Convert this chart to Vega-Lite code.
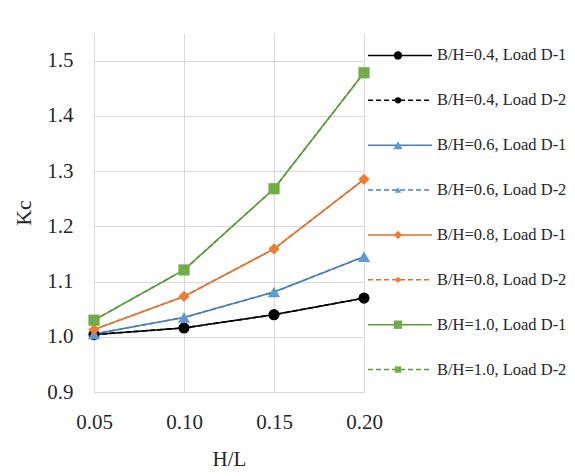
{
  "$schema": "https://vega.github.io/schema/vega-lite/v6.json",
  "padding": {"left": 12, "top": 33, "right": 0, "bottom": 0},
  "background": "white",
  "bounds": "flush",
  "config": {"font": "Liberation Serif", "view": {"stroke": null}},
  "datasets": {
    "series": [
      {"s": "B/H=0.4, Load D-1"}, {"s": "B/H=0.4, Load D-2"},
      {"s": "B/H=0.6, Load D-1"}, {"s": "B/H=0.6, Load D-2"},
      {"s": "B/H=0.8, Load D-1"}, {"s": "B/H=0.8, Load D-2"},
      {"s": "B/H=1.0, Load D-1"}, {"s": "B/H=1.0, Load D-2"}
    ],
    "points": [
      {"s": "B/H=0.4, Load D-2", "x": 0.05, "y": 1.004}, {"s": "B/H=0.4, Load D-2", "x": 0.10, "y": 1.016}, {"s": "B/H=0.4, Load D-2", "x": 0.15, "y": 1.040}, {"s": "B/H=0.4, Load D-2", "x": 0.20, "y": 1.070},
      {"s": "B/H=0.6, Load D-2", "x": 0.05, "y": 1.005}, {"s": "B/H=0.6, Load D-2", "x": 0.10, "y": 1.035}, {"s": "B/H=0.6, Load D-2", "x": 0.15, "y": 1.081}, {"s": "B/H=0.6, Load D-2", "x": 0.20, "y": 1.145},
      {"s": "B/H=0.8, Load D-2", "x": 0.05, "y": 1.013}, {"s": "B/H=0.8, Load D-2", "x": 0.10, "y": 1.073}, {"s": "B/H=0.8, Load D-2", "x": 0.15, "y": 1.159}, {"s": "B/H=0.8, Load D-2", "x": 0.20, "y": 1.285},
      {"s": "B/H=1.0, Load D-2", "x": 0.05, "y": 1.030}, {"s": "B/H=1.0, Load D-2", "x": 0.10, "y": 1.121}, {"s": "B/H=1.0, Load D-2", "x": 0.15, "y": 1.268}, {"s": "B/H=1.0, Load D-2", "x": 0.20, "y": 1.478},
      {"s": "B/H=0.4, Load D-1", "x": 0.05, "y": 1.004}, {"s": "B/H=0.4, Load D-1", "x": 0.10, "y": 1.016}, {"s": "B/H=0.4, Load D-1", "x": 0.15, "y": 1.040}, {"s": "B/H=0.4, Load D-1", "x": 0.20, "y": 1.070},
      {"s": "B/H=0.6, Load D-1", "x": 0.05, "y": 1.005}, {"s": "B/H=0.6, Load D-1", "x": 0.10, "y": 1.035}, {"s": "B/H=0.6, Load D-1", "x": 0.15, "y": 1.081}, {"s": "B/H=0.6, Load D-1", "x": 0.20, "y": 1.145},
      {"s": "B/H=0.8, Load D-1", "x": 0.05, "y": 1.013}, {"s": "B/H=0.8, Load D-1", "x": 0.10, "y": 1.073}, {"s": "B/H=0.8, Load D-1", "x": 0.15, "y": 1.159}, {"s": "B/H=0.8, Load D-1", "x": 0.20, "y": 1.285},
      {"s": "B/H=1.0, Load D-1", "x": 0.05, "y": 1.030}, {"s": "B/H=1.0, Load D-1", "x": 0.10, "y": 1.121}, {"s": "B/H=1.0, Load D-1", "x": 0.15, "y": 1.268}, {"s": "B/H=1.0, Load D-1", "x": 0.20, "y": 1.478}
    ]
  },
  "spacing": 4,
  "hconcat": [
    {
      "width": 270,
      "height": 359,
      "data": {"name": "points"},
      "encoding": {
        "x": {"field": "x", "type": "quantitative", "scale": {"domain": [0.05, 0.2], "nice": false, "zero": false},
          "axis": {"values": [0.05, 0.1, 0.15, 0.2], "format": ".2f", "title": "H/L", "labelFont": "Liberation Serif", "labelFontSize": 21, "labelColor": "#262626", "labelPadding": 19, "ticks": false, "domainColor": "#d9d9d9", "gridColor": "#d9d9d9", "titleFont": "Liberation Serif", "titleFontSize": 21, "titleFontWeight": "normal", "titleColor": "#262626", "titlePadding": 16, "labelFlush": false}},
        "y": {"field": "y", "type": "quantitative", "scale": {"domain": [0.9, 1.55], "nice": false, "zero": false},
          "axis": {"values": [0.9, 1.0, 1.1, 1.2, 1.3, 1.4, 1.5], "format": ".1f", "title": "Kc", "labelFont": "Liberation Serif", "labelFontSize": 21, "labelColor": "#262626", "labelPadding": 21, "ticks": false, "domainColor": "#d9d9d9", "gridColor": "#d9d9d9", "titleFont": "Liberation Serif", "titleFontSize": 22, "titleFontWeight": "normal", "titleColor": "#262626", "titlePadding": 11}},
        "color": {"field": "s", "type": "nominal", "legend": null,
          "scale": {"domain": ["B/H=0.4, Load D-1", "B/H=0.4, Load D-2", "B/H=0.6, Load D-1", "B/H=0.6, Load D-2", "B/H=0.8, Load D-1", "B/H=0.8, Load D-2", "B/H=1.0, Load D-1", "B/H=1.0, Load D-2"],
            "range": ["#000000", "#000000", "#4a7ebb", "#4a7ebb", "#e0712c", "#e0712c", "#5e9a3a", "#5e9a3a"]}}
      },
      "layer": [
        {
          "mark": {"type": "line", "strokeWidth": 1.6},
          "encoding": {
            "strokeDash": {"field": "s", "type": "nominal", "legend": null,
              "scale": {"domain": ["B/H=0.4, Load D-1", "B/H=0.4, Load D-2", "B/H=0.6, Load D-1", "B/H=0.6, Load D-2", "B/H=0.8, Load D-1", "B/H=0.8, Load D-2", "B/H=1.0, Load D-1", "B/H=1.0, Load D-2"],
                "range": [[1, 0], [5, 3], [1, 0], [5, 3], [1, 0], [5, 3], [1, 0], [5, 3]]}}
          }
        },
        {
          "mark": {"type": "point", "filled": true, "opacity": 1, "strokeWidth": 0.8},
          "encoding": {
            "shape": {"field": "s", "type": "nominal", "legend": null,
              "scale": {"domain": ["B/H=0.4, Load D-1", "B/H=0.4, Load D-2", "B/H=0.6, Load D-1", "B/H=0.6, Load D-2", "B/H=0.8, Load D-1", "B/H=0.8, Load D-2", "B/H=1.0, Load D-1", "B/H=1.0, Load D-2"],
                "range": ["circle", "circle", "triangle-up", "triangle-up", "diamond", "diamond", "square", "square"]}},
            "fill": {"field": "s", "type": "nominal", "legend": null,
              "scale": {"domain": ["B/H=0.4, Load D-1", "B/H=0.4, Load D-2", "B/H=0.6, Load D-1", "B/H=0.6, Load D-2", "B/H=0.8, Load D-1", "B/H=0.8, Load D-2", "B/H=1.0, Load D-1", "B/H=1.0, Load D-2"],
                "range": ["#000000", "#000000", "#5b9bd5", "#5b9bd5", "#ed7d31", "#ed7d31", "#70ad47", "#70ad47"]}},
            "size": {"condition": [
                {"test": "indexof(datum.s, 'D-2') >= 0", "value": 60},
                {"test": "indexof(datum.s, '0.6') >= 0", "value": 150},
                {"test": "indexof(datum.s, '0.8') >= 0", "value": 125}
              ], "value": 125}
          }
        }
      ]
    },
    {
      "width": 207,
      "height": 359,
      "data": {"name": "series"},
      "encoding": {
        "y": {"field": "s", "type": "ordinal", "axis": null, "sort": null, "scale": {"type": "point", "padding": 0.5}},
        "color": {"field": "s", "type": "nominal", "legend": null,
          "scale": {"domain": ["B/H=0.4, Load D-1", "B/H=0.4, Load D-2", "B/H=0.6, Load D-1", "B/H=0.6, Load D-2", "B/H=0.8, Load D-1", "B/H=0.8, Load D-2", "B/H=1.0, Load D-1", "B/H=1.0, Load D-2"],
            "range": ["#000000", "#000000", "#4a7ebb", "#4a7ebb", "#e0712c", "#e0712c", "#5e9a3a", "#5e9a3a"]}}
      },
      "layer": [
        {
          "mark": {"type": "rule", "strokeWidth": 1.6},
          "encoding": {
            "x": {"datum": 0, "type": "quantitative", "scale": {"domain": [0, 207], "nice": false}, "axis": null},
            "x2": {"datum": 64},
            "strokeDash": {"field": "s", "type": "nominal", "legend": null,
              "scale": {"domain": ["B/H=0.4, Load D-1", "B/H=0.4, Load D-2", "B/H=0.6, Load D-1", "B/H=0.6, Load D-2", "B/H=0.8, Load D-1", "B/H=0.8, Load D-2", "B/H=1.0, Load D-1", "B/H=1.0, Load D-2"],
                "range": [[1, 0], [5, 3], [1, 0], [5, 3], [1, 0], [5, 3], [1, 0], [5, 3]]}}
          }
        },
        {
          "mark": {"type": "point", "filled": true, "opacity": 1, "strokeWidth": 0.8},
          "encoding": {
            "x": {"datum": 30, "type": "quantitative"},
            "shape": {"field": "s", "type": "nominal", "legend": null,
              "scale": {"domain": ["B/H=0.4, Load D-1", "B/H=0.4, Load D-2", "B/H=0.6, Load D-1", "B/H=0.6, Load D-2", "B/H=0.8, Load D-1", "B/H=0.8, Load D-2", "B/H=1.0, Load D-1", "B/H=1.0, Load D-2"],
                "range": ["circle", "circle", "triangle-up", "triangle-up", "diamond", "diamond", "square", "square"]}},
            "fill": {"field": "s", "type": "nominal", "legend": null,
              "scale": {"domain": ["B/H=0.4, Load D-1", "B/H=0.4, Load D-2", "B/H=0.6, Load D-1", "B/H=0.6, Load D-2", "B/H=0.8, Load D-1", "B/H=0.8, Load D-2", "B/H=1.0, Load D-1", "B/H=1.0, Load D-2"],
                "range": ["#000000", "#000000", "#5b9bd5", "#5b9bd5", "#ed7d31", "#ed7d31", "#70ad47", "#70ad47"]}},
            "size": {"condition": [
                {"test": "indexof(datum.s, 'D-2') >= 0", "value": 40},
                {"test": "indexof(datum.s, '0.6') >= 0", "value": 85}
              ], "value": 70}
          }
        },
        {
          "mark": {"type": "text", "align": "left", "baseline": "middle", "font": "Liberation Serif", "fontSize": 16.5},
          "encoding": {
            "x": {"datum": 69, "type": "quantitative"},
            "text": {"field": "s"},
            "color": {"value": "#262626"}
          }
        }
      ]
    }
  ]
}
